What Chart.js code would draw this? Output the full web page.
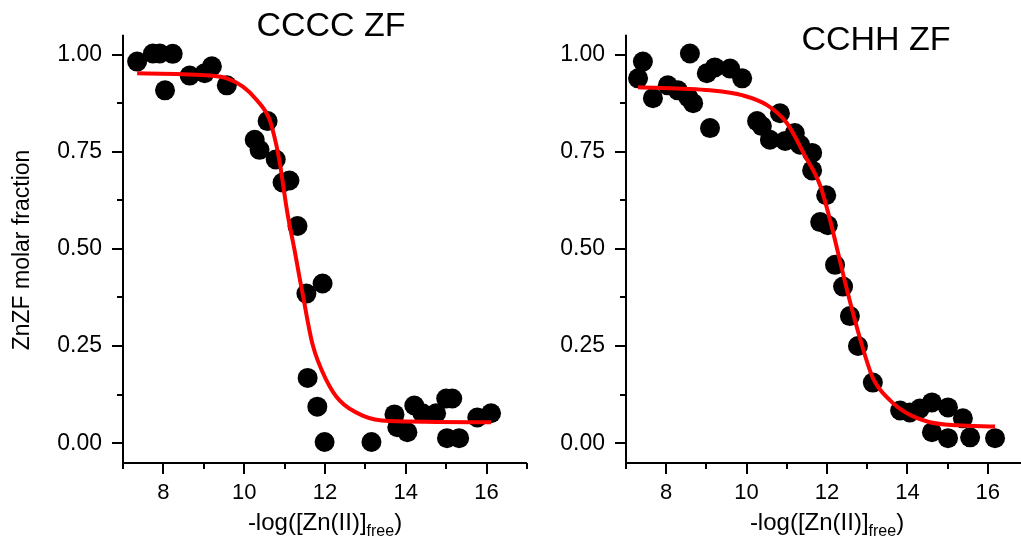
<!DOCTYPE html>
<html>
<head>
<meta charset="utf-8">
<script src="https://cdn.jsdelivr.net/npm/chart.js@4.4.1/dist/chart.umd.min.js"></script>
<style>
  html, body { margin:0; padding:0; background:#fff; overflow:hidden; }
  #wrap { position:relative; width:1021px; height:540px; overflow:hidden; background:#fff; }
  canvas { position:absolute; top:0; }
  #c1 { left:0; }
  #c2 { left:527px; }
</style>
</head>
<body>
<div id="wrap">
  <canvas id="c1" width="540" height="540"></canvas>
  <canvas id="c2" width="513" height="540"></canvas>
</div>
<script>
// ---- data ----
const ccccX = [7.35, 7.74, 7.91, 8.23, 8.04, 8.65, 9.02, 9.20, 9.57, 10.26, 10.38, 10.58, 10.78, 10.95, 11.12, 11.32, 11.54, 11.94, 11.57, 11.81, 11.99, 13.15, 13.72, 13.79, 14.04, 14.21, 14.41, 14.75, 15.00, 15.15, 15.02, 15.32, 15.77, 16.11];
const ccccY = [0.982, 1.003, 1.003, 1.002, 0.908, 0.946, 0.952, 0.970, 0.921, 0.781, 0.755, 0.829, 0.730, 0.671, 0.676, 0.559, 0.385, 0.411, 0.168, 0.094, 0.003, 0.003, 0.074, 0.041, 0.028, 0.097, 0.077, 0.077, 0.115, 0.115, 0.013, 0.013, 0.066, 0.077];

const ccccFitX = [7.35, 9.15, 9.57, 9.96, 10.31, 10.63, 10.80, 10.88, 11.07, 11.25, 11.37, 11.44, 11.69, 12.04, 12.36, 12.93, 13.59, 16.11];
const ccccFitY = [0.952, 0.946, 0.939, 0.918, 0.883, 0.832, 0.765, 0.722, 0.592, 0.495, 0.426, 0.388, 0.255, 0.161, 0.110, 0.071, 0.057, 0.054];

const cchhX = [7.42, 7.30, 7.67, 8.04, 8.29, 8.59, 8.55, 8.67, 9.09, 9.01, 9.21, 9.59, 9.89, 10.26, 10.38, 10.83, 10.58, 10.96, 11.20, 11.33, 11.63, 11.63, 11.98, 11.83, 12.02, 12.20, 12.40, 12.57, 12.77, 13.14, 13.82, 14.06, 14.31, 14.61, 15.01, 15.38, 14.61, 15.01, 15.56, 16.18];
const cchhY = [0.982, 0.939, 0.888, 0.921, 0.908, 1.003, 0.890, 0.875, 0.811, 0.952, 0.967, 0.964, 0.939, 0.829, 0.816, 0.849, 0.781, 0.778, 0.798, 0.768, 0.747, 0.702, 0.638, 0.569, 0.561, 0.459, 0.403, 0.327, 0.250, 0.156, 0.084, 0.079, 0.089, 0.105, 0.092, 0.064, 0.028, 0.013, 0.015, 0.013];

const cchhFitX = [7.30, 9.09, 9.91, 10.51, 11.00, 11.45, 11.83, 12.07, 12.27, 12.52, 12.82, 13.14, 13.57, 13.99, 14.56, 15.23, 16.18];
const cchhFitY = [0.916, 0.908, 0.895, 0.870, 0.824, 0.740, 0.663, 0.577, 0.492, 0.385, 0.270, 0.168, 0.110, 0.077, 0.054, 0.046, 0.043];

const xMajorTicks = [8, 10, 12, 14, 16];
const xMinorTicks = [7, 9, 11, 13, 15, 17];
const yMajorTicks = [0, 0.25, 0.5, 0.75, 1.0];
const yMinorTicks = [0.125, 0.375, 0.625, 0.875];

const titles = ['CCCC ZF', 'CCHH ZF'];
const yAxisLabel = 'ZnZF molar fraction';
const xLabelMain = '-log([Zn(II)]';
const xLabelSub = 'free';
const xLabelEnd = ')';

// ---- drawing ----
const FONT = '"Liberation Sans", Arial, sans-serif';

function pts(xs, ys) { return xs.map((x, i) => ({ x: x, y: ys[i] })); }

const decor = {
  id: 'decor',
  afterDraw(chart, args, opts) {
    const ctx = chart.ctx;
    const ca = chart.chartArea;
    const xs = chart.scales.x, ys = chart.scales.y;
    ctx.save();
    ctx.strokeStyle = '#000';
    ctx.lineWidth = 2;
    ctx.lineCap = 'butt';
    // axis lines
    ctx.beginPath();
    ctx.moveTo(ca.left, ca.top);
    ctx.lineTo(ca.left, ca.bottom + 1);
    ctx.moveTo(ca.left - 1, ca.bottom);
    ctx.lineTo(ca.right, ca.bottom);
    ctx.stroke();
    // x ticks
    const drawX = (vals, len) => {
      vals.forEach(v => {
        const p = Math.round(xs.getPixelForValue(v));
        if (p < ca.left - 1 || p > ca.right + 1) return;
        ctx.beginPath();
        ctx.moveTo(p, ca.bottom);
        ctx.lineTo(p, ca.bottom + len);
        ctx.stroke();
      });
    };
    drawX(xMajorTicks, 11);
    drawX(xMinorTicks, 6);
    const drawY = (vals, len) => {
      vals.forEach(v => {
        const p = Math.round(ys.getPixelForValue(v));
        ctx.beginPath();
        ctx.moveTo(ca.left, p);
        ctx.lineTo(ca.left - len, p);
        ctx.stroke();
      });
    };
    drawY(yMajorTicks, 11);
    drawY(yMinorTicks, 6);

    // title
    ctx.fillStyle = '#000';
    ctx.font = '34px ' + FONT;
    ctx.textAlign = 'center';
    ctx.textBaseline = 'middle';
    ctx.fillText(opts.title, opts.titleX, opts.titleY);

    // x axis label with subscript
    const mainFont = '24px ' + FONT, subFont = '16px ' + FONT;
    ctx.font = mainFont;
    const w1 = ctx.measureText(xLabelMain).width;
    const w3 = ctx.measureText(xLabelEnd).width;
    ctx.font = subFont;
    const w2 = ctx.measureText(xLabelSub).width;
    const total = w1 + w2 + w3;
    let x0 = (ca.left + ca.right) / 2 - total / 2;
    const base = 530;
    ctx.textAlign = 'left';
    ctx.textBaseline = 'alphabetic';
    ctx.font = mainFont;
    ctx.fillText(xLabelMain, x0, base);
    ctx.font = subFont;
    ctx.fillText(xLabelSub, x0 + w1, base + 6);
    ctx.font = mainFont;
    ctx.fillText(xLabelEnd, x0 + w1 + w2, base);

    // y axis label
    if (opts.yLabel) {
      ctx.save();
      ctx.translate(23, 250);
      ctx.rotate(-Math.PI / 2);
      ctx.font = '23px ' + FONT;
      ctx.textAlign = 'center';
      ctx.textBaseline = 'middle';
      ctx.fillText(yAxisLabel, 0, 0);
      ctx.restore();
    }
    ctx.restore();
  }
};

function makeChart(id, scatterPts, fitPts, yAxisWidth, padRight, decorOpts) {
  return new Chart(document.getElementById(id), {
    type: 'scatter',
    data: {
      datasets: [
        {
          data: fitPts,
          showLine: true,
          borderColor: '#ff0000',
          borderWidth: 4,
          pointRadius: 0,
          cubicInterpolationMode: 'monotone',
          fill: false,
          clip: false
        },
        {
          data: scatterPts,
          pointRadius: 10,
          pointBackgroundColor: '#000',
          pointBorderWidth: 0,
          borderWidth: 0,
          backgroundColor: '#000',
          clip: false
        }
      ]
    },
    options: {
      responsive: false,
      animation: false,
      events: [],
      devicePixelRatio: 1,
      layout: { padding: { left: 0, top: 31, right: padRight, bottom: 0 } },
      plugins: {
        legend: { display: false },
        tooltip: { enabled: false },
        title: { display: false },
        decor: decorOpts
      },
      scales: {
        x: {
          type: 'linear',
          min: 7, max: 17,
          grid: { display: false, drawTicks: false },
          border: { display: false },
          afterBuildTicks: s => { s.ticks = xMajorTicks.map(v => ({ value: v })); },
          afterFit: s => { s.height = 77; },
          ticks: {
            padding: 17,
            color: '#000',
            font: { family: FONT, size: 22 },
            maxRotation: 0,
            callback: v => String(v)
          }
        },
        y: {
          type: 'linear',
          min: -0.051, max: 1.051,
          grid: { display: false, drawTicks: false },
          border: { display: false },
          afterBuildTicks: s => { s.ticks = yMajorTicks.map(v => ({ value: v })); },
          afterFit: s => { s.width = yAxisWidth; },
          ticks: {
            padding: 21,
            color: '#000',
            font: { family: FONT, size: 23 },
            callback: v => Number(v).toFixed(2)
          }
        }
      }
    },
    plugins: [decor]
  });
}

makeChart('c1', pts(ccccX, ccccY), pts(ccccFitX, ccccFitY), 123, 13,
  { title: titles[0], titleX: 331, titleY: 27, yLabel: true });
makeChart('c2', pts(cchhX, cchhY), pts(cchhFitX, cchhFitY), 99, 12,
  { title: titles[1], titleX: 349, titleY: 41, yLabel: false });
</script>
</body>
</html>
